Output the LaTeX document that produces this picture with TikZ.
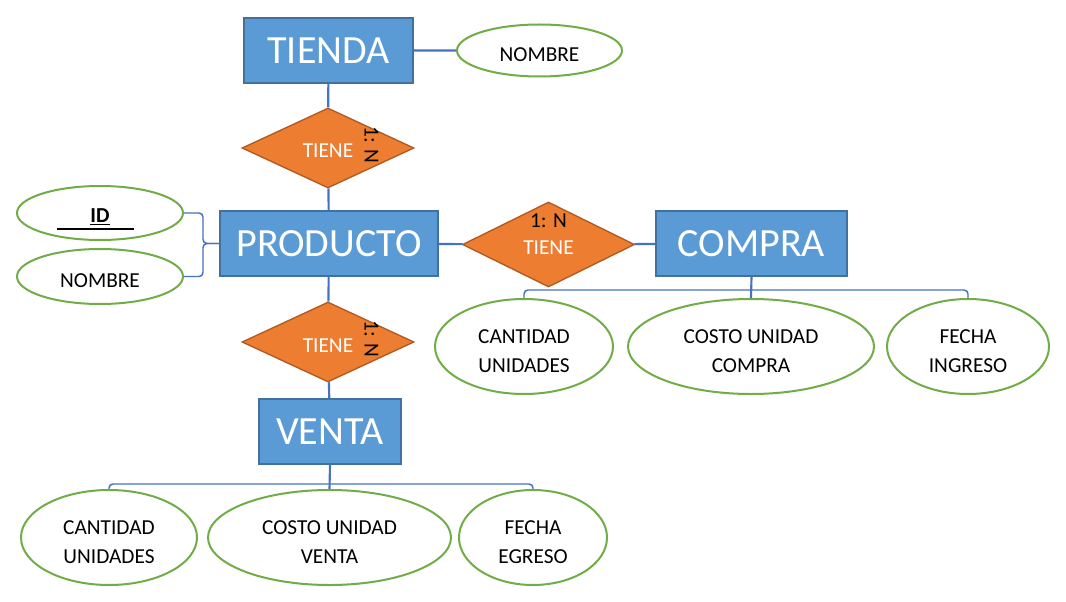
\documentclass[tikz,border=0pt]{standalone}
\usepackage{fontspec}
\setmainfont{Carlito}
\usetikzlibrary{shapes.geometric}
\usetikzlibrary{positioning}
\definecolor{boxblue}{HTML}{5B9BD5}
\definecolor{boxedge}{HTML}{41719C}
\definecolor{relfill}{HTML}{ED7D31}
\definecolor{reledge}{HTML}{AE5A21}
\definecolor{attredge}{HTML}{70AD47}
\definecolor{linkblue}{HTML}{4472C4}

\begin{document}
\begin{tikzpicture}[x=0.75pt,y=-0.75pt,
    entity node/.style={rectangle,draw=boxedge,fill=boxblue,line width=1.5pt,text=white,
                        font=\fontsize{30}{36}\selectfont,minimum height=48.75pt,inner sep=0pt},
    rel node/.style={diamond,draw=reledge,fill=relfill,line width=1pt,text=white,text height=15pt,
                     font=\fontsize{16}{19}\selectfont,minimum width=129pt,minimum height=60pt,inner sep=0pt},
    card node/.style={font=\fontsize{16}{19}\selectfont,inner sep=0pt},
    attr node/.style={ellipse,draw=attredge,line width=1.5pt,fill=white,align=center,text height=16pt,
                      font=\fontsize{16}{21.75}\selectfont,inner sep=0pt},
    two lines/.style={text height=38.5pt,minimum height=71.25pt},
    link/.style={draw=linkblue,line width=1.6pt},
    brace/.style={draw=linkblue,line width=1.1pt,rounded corners=3pt}]

\fill[white] (0,0) rectangle (1066,602);
\useasboundingbox (0,0) rectangle (1066,602);

\node[entity node, minimum width=126.75pt] (tienda) at (328.5,50.5) {TIENDA};
\node[attr node, minimum width=123.75pt, minimum height=39pt, right=31.5pt of tienda] (tnombre) {NOMBRE};
\node[rel node] (r1) at (328,148) {TIENE};
\node[entity node, minimum width=163.5pt] (producto) at (329,243.5) {PRODUCTO};
\node[attr node, minimum width=124.5pt, minimum height=40.5pt] (pid) at (100,213) {\underline{\textbf{ID}}};
\node[attr node, minimum width=124.5pt, minimum height=41.25pt] (pnombre) at (100,276.5) {NOMBRE};
\node[rel node, minimum height=63.75pt] (r2) at (548.5,244.5) {TIENE};
\node[entity node, minimum width=143.25pt] (compra) at (751.5,243.5) {COMPRA};
\node[rel node] (r3) at (328,342) {TIENE};
\node[entity node, minimum width=106.5pt] (venta) at (330,431.5) {VENTA};

\node[card node, rotate=-90] (k1) at ([xshift=32.5pt,yshift=2pt]r1.center) {1: N};
\node[card node] (k2) at ([yshift=18pt]r2.center) {1: N};
\node[card node, rotate=-90] (k3) at ([xshift=32.5pt,yshift=2pt]r3.center) {1: N};

% atributos de compra y venta
\node[attr node, two lines, minimum width=133.5pt] (ccant) at (524,346.5) {CANTIDAD\\UNIDADES};
\node[attr node, two lines, minimum width=184.5pt] (ccosto) at (751,346.5) {COSTO UNIDAD\\COMPRA};
\node[attr node, two lines, minimum width=121.5pt] (cfecha) at (968,346.5) {FECHA\\INGRESO};
\node[attr node, two lines, minimum width=132pt] (vcant) at (109,537.5) {CANTIDAD\\UNIDADES};
\node[attr node, two lines, minimum width=182.25pt] (vcosto) at (329.5,537.5) {COSTO UNIDAD\\VENTA};
\node[attr node, two lines, minimum width=111pt] (vfecha) at (533,537.5) {FECHA\\EGRESO};

\draw[line width=1.2pt] ([xshift=-32pt,yshift=-12pt]pid.center) -- ([xshift=25.5pt,yshift=-12pt]pid.center);

\draw[link] (tienda) -- (tnombre)
            (tienda) -- (r1)
            (r1) -- (producto)
            (producto) -- (r3)
            (r3) -- (venta)
            (producto) -- (r2)
            (r2) -- (compra);

\draw[brace] (pid.east) -| ([xshift=-12pt]producto.west) -- (producto.west);
\draw[brace] (pnombre.east) -| ([xshift=-12pt]producto.west) -- (producto.west);

\coordinate (cj) at ([yshift=-9.75pt]compra.south);
\draw[brace] (ccant.north) |- (cj) -| (cfecha.north);
\draw[link] (compra.south) -- (ccosto.north);

\coordinate (vj) at ([yshift=-14.25pt]venta.south);
\draw[brace] (vcant.north) |- (vj) -| (vfecha.north);
\draw[link] (venta.south) -- (vcosto.north);
\end{tikzpicture}
\end{document}
